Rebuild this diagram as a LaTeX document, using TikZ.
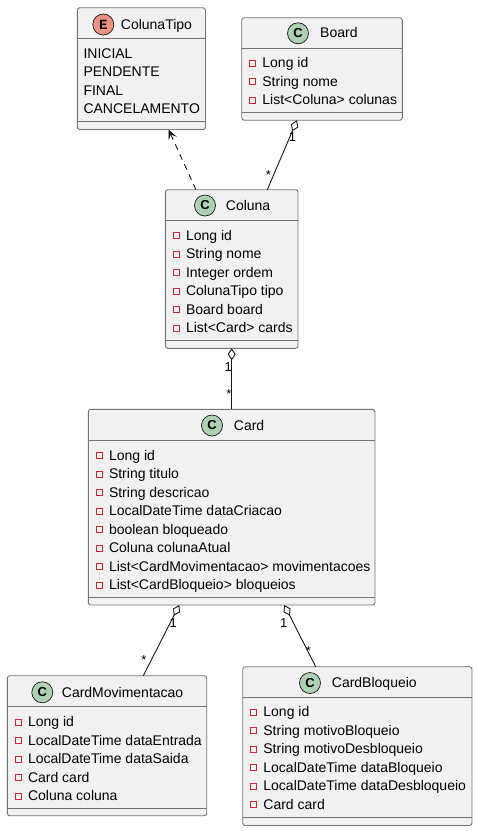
\documentclass[tikz,border=0pt]{standalone}
\usepackage{fontspec}
\setmainfont{Liberation Sans}
\newfontfamily\enumletterfont{Liberation Mono}
\usetikzlibrary{arrows.meta}
\definecolor{boxfill}{HTML}{F1F1F1}
\definecolor{boxline}{HTML}{737373}
\definecolor{classgreen}{HTML}{ADD1B2}
\definecolor{enumred}{HTML}{EB937F}
\definecolor{privred}{HTML}{C82930}
\definecolor{ink}{HTML}{181818}
\newcommand{\umlattr}[4]{%
  \draw[privicon] ({#2+8},{#3-7.5}) rectangle ({#2+14},{#3-1.5});
  \node[attrtext] (#1) at ({#2+20.5},#3) {#4};}
\begin{document}
\begin{tikzpicture}[x=1pt,y=-1pt,
  umlbox/.style={draw=boxline, fill=boxfill, line width=0.9pt, rounded corners=2.5pt, inner sep=0, outer sep=0, anchor=north west},
  sepline/.style={draw=boxline, line width=0.9pt},
  iconC/.style={circle, draw=ink, line width=0.7pt, fill=classgreen, minimum size=21pt, inner sep=0, font=\fontsize{13}{13}\selectfont\bfseries},
  iconE/.style={iconC, fill=enumred, font=\fontsize{14}{14}\selectfont\enumletterfont\bfseries},
  titletext/.style={anchor=base west, inner sep=0, font=\fontsize{14}{16}\selectfont},
  attrtext/.style={anchor=base west, inner sep=0, font=\fontsize{14}{16}\selectfont},
  privicon/.style={draw=privred, line width=0.8pt},
  conn/.style={draw=ink, line width=0.9pt},
  agg/.style={conn, {Diamond[fill=white, length=12pt, width=8pt, line width=0.9pt]}-},
  dep/.style={conn, dash pattern=on 6pt off 5pt, -{Stealth[length=10pt, width=9pt, inset=4.5pt]}},
  mult/.style={anchor=base, inner sep=0, font=\fontsize{13}{13}\selectfont}]
\useasboundingbox (0,0) rectangle (477,831);
\fill[white] (0,0) rectangle (477,831);

% ---------- ColunaTipo (enum) ----------
\node[umlbox, minimum width=128.2pt, minimum height=121.8pt] (colunatipo) at (77.3,7.7) {};
\draw[sepline] (77.3,38.3) -- (205.5,38.3);
\draw[sepline] (77.3,121) -- (205.5,121);
\node[iconE] (colunatipo-icon) at (103.3,24.5) {E};
\node[titletext] (colunatipo-title) at (120.7,29.5) {ColunaTipo};
\node[attrtext] (ct-1) at (83.3,58.3) {INICIAL};
\node[attrtext] (ct-2) at (83.3,76.8) {PENDENTE};
\node[attrtext] (ct-3) at (83.3,95.3) {FINAL};
\node[attrtext] (ct-4) at (83.3,113.8) {CANCELAMENTO};

% ---------- Board ----------
\node[umlbox, minimum width=160.6pt, minimum height=102.5pt] (board) at (241.7,17.7) {};
\draw[sepline] (241.7,48.3) -- (402.3,48.3);
\draw[sepline] (241.7,112.2) -- (402.3,112.2);
\node[iconC] (board-icon) at (298,33.3) {C};
\node[titletext] (board-title) at (320,37.8) {Board};
\umlattr{b-1}{241.7}{67.7}{Long id}
\umlattr{b-2}{241.7}{86.2}{String nome}
\umlattr{b-3}{241.7}{104.7}{List<Coluna> colunas}

% ---------- Coluna ----------
\node[umlbox, minimum width=132.7pt, minimum height=158.6pt] (coluna) at (165.3,189.7) {};
\draw[sepline] (165.3,220.2) -- (298,220.2);
\draw[sepline] (165.3,340) -- (298,340);
\node[iconC] (coluna-icon) at (205,205.5) {C};
\node[titletext] (coluna-title) at (225.7,210.3) {Coluna};
\umlattr{co-1}{165.3}{240}{Long id}
\umlattr{co-2}{165.3}{258.5}{String nome}
\umlattr{co-3}{165.3}{277}{Integer ordem}
\umlattr{co-4}{165.3}{295.5}{ColunaTipo tipo}
\umlattr{co-5}{165.3}{314}{Board board}
\umlattr{co-6}{165.3}{332.5}{List<Card> cards}

% ---------- Card ----------
\node[umlbox, minimum width=286.7pt, minimum height=195.7pt] (card) at (88.3,409.3) {};
\draw[sepline] (88.3,440.5) -- (375,440.5);
\draw[sepline] (88.3,597.3) -- (375,597.3);
\node[iconC] (card-icon) at (212,425.5) {C};
\node[titletext] (card-title) at (233.7,430.3) {Card};
\umlattr{ca-1}{88.3}{460}{Long id}
\umlattr{ca-2}{88.3}{478.5}{String titulo}
\umlattr{ca-3}{88.3}{497}{String descricao}
\umlattr{ca-4}{88.3}{515.5}{LocalDateTime dataCriacao}
\umlattr{ca-5}{88.3}{534}{boolean bloqueado}
\umlattr{ca-6}{88.3}{552.5}{Coluna colunaAtual}
\umlattr{ca-7}{88.3}{571}{List<CardMovimentacao> movimentacoes}
\umlattr{ca-8}{88.3}{589.5}{List<CardBloqueio> bloqueios}

% ---------- CardMovimentacao ----------
\node[umlbox, minimum width=199.4pt, minimum height=140pt] (cardmov) at (7.3,675.7) {};
\draw[sepline] (7.3,706.7) -- (206.7,706.7);
\draw[sepline] (7.3,808.3) -- (206.7,808.3);
\node[iconC] (cardmov-icon) at (42.3,692.3) {C};
\node[titletext] (cardmov-title) at (61.7,697) {CardMovimentacao};
\umlattr{cm-1}{7.3}{726.5}{Long id}
\umlattr{cm-2}{7.3}{745}{LocalDateTime dataEntrada}
\umlattr{cm-3}{7.3}{763.5}{LocalDateTime dataSaida}
\umlattr{cm-4}{7.3}{782}{Card card}
\umlattr{cm-5}{7.3}{800.5}{Coluna coluna}

% ---------- CardBloqueio ----------
\node[umlbox, minimum width=229.3pt, minimum height=158.8pt] (cardbloq) at (242.7,666.7) {};
\draw[sepline] (242.7,697.7) -- (472,697.7);
\draw[sepline] (242.7,817.5) -- (472,817.5);
\node[iconC] (cardbloq-icon) at (310,683) {C};
\node[titletext] (cardbloq-title) at (331.7,687.7) {CardBloqueio};
\umlattr{cb-1}{242.7}{716.7}{Long id}
\umlattr{cb-2}{242.7}{735.2}{String motivoBloqueio}
\umlattr{cb-3}{242.7}{753.7}{String motivoDesbloqueio}
\umlattr{cb-4}{242.7}{772.2}{LocalDateTime dataBloqueio}
\umlattr{cb-5}{242.7}{790.7}{LocalDateTime dataDesbloqueio}
\umlattr{cb-6}{242.7}{809.2}{Card card}

% ---------- connector end points on the boxes ----------
\coordinate (coluna-top-dep) at (196,189.7);
\coordinate (colunatipo-bot) at (168.5,129.5);
\coordinate (board-bot) at (297,120.2);
\coordinate (coluna-top-agg) at (267.3,189.7);
\coordinate (coluna-bot) at (231.7,348.3);
\coordinate (card-top) at (231.7,409.3);
\coordinate (card-bot-mov) at (179.3,605);
\coordinate (cardmov-top) at (143.3,675.7);
\coordinate (card-bot-bloq) at (284.3,605);
\coordinate (cardbloq-top) at (315.7,666.7);

% ---------- connectors ----------
\draw[dep] (coluna-top-dep) -- (colunatipo-bot);
\draw[agg] (board-bot) -- (coluna-top-agg);
\draw[agg] (coluna-bot) -- (card-top);
\draw[agg] (card-bot-mov) -- (cardmov-top);
\draw[agg] (card-bot-bloq) -- (cardbloq-top);

% ---------- multiplicities ----------
\node[mult] (m-board-1) at (292.5,141.6) {1};
\node[mult] (m-board-n) at (268.3,179) {*};
\node[mult] (m-coluna-1) at (228.3,371.3) {1};
\node[mult] (m-coluna-n) at (229,398.2) {*};
\node[mult] (m-card-mov-1) at (173.3,627.6) {1};
\node[mult] (m-card-mov-n) at (144,664.2) {*};
\node[mult] (m-card-bloq-1) at (283.8,627.6) {1};
\node[mult] (m-card-bloq-n) at (308.3,655.2) {*};
\end{tikzpicture}
\end{document}
